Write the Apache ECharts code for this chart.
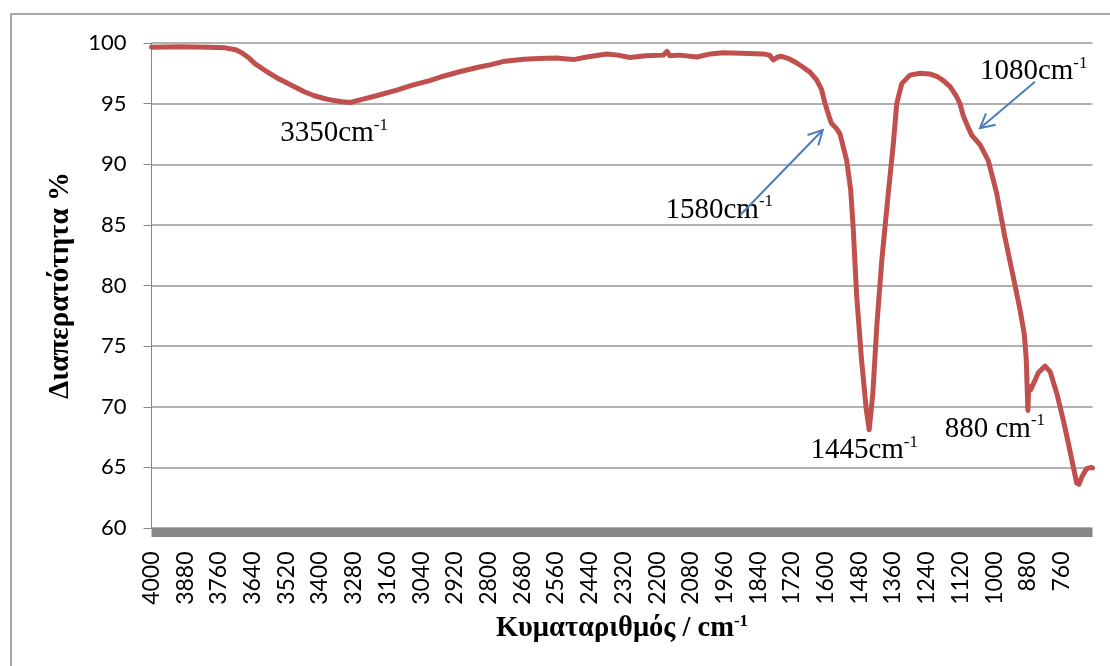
<!DOCTYPE html>
<html>
<head>
<meta charset="utf-8">
<script src="https://cdn.jsdelivr.net/npm/echarts@6/dist/echarts.min.js"></script>
<style>
  html, body { margin: 0; padding: 0; background: #fff; }
  #chart { width: 1110px; height: 666px; }
</style>
</head>
<body>
<div id="chart"></div>
<script>
// FTIR spectrum: wavenumber (cm-1) against transmittance (%)
const wavenumber = [
  4000, 3900, 3800, 3738, 3700, 3679, 3655, 3632, 3590, 3549,
  3500, 3454, 3420, 3382, 3350, 3320, 3293, 3250, 3193, 3130,
  3074, 3010, 2955, 2900, 2837, 2795, 2742, 2676, 2620, 2557,
  2530, 2498, 2450, 2380, 2340, 2297, 2240, 2178, 2165, 2155,
  2120, 2059, 2010, 1964, 1900, 1822, 1800, 1786, 1770, 1757,
  1730, 1703, 1680, 1656, 1632, 1615, 1602, 1590, 1580, 1560,
  1549, 1525, 1511, 1502, 1490, 1472, 1455, 1445, 1432, 1418,
  1400, 1377, 1359, 1347, 1329, 1300, 1264, 1230, 1200, 1181,
  1157, 1133, 1122, 1110, 1092, 1080, 1050, 1021, 991, 962,
  932, 908, 893, 886, 880, 877, 870, 866, 843, 819,
  801, 777, 754, 736, 718, 706, 698, 688, 671, 655, 650
];
const transmittance = [
  99.65, 99.70, 99.65, 99.60, 99.45, 99.20, 98.80, 98.30, 97.65, 97.07,
  96.50, 95.96, 95.65, 95.40, 95.25, 95.15, 95.09, 95.35, 95.69, 96.10,
  96.50, 96.90, 97.30, 97.65, 98.00, 98.20, 98.50, 98.66, 98.72, 98.76,
  98.70, 98.63, 98.85, 99.10, 99.00, 98.80, 98.95, 99.00, 99.30, 98.95,
  99.00, 98.85, 99.10, 99.20, 99.15, 99.10, 99.00, 98.60, 98.85, 98.90,
  98.70, 98.35, 98.00, 97.60, 96.95, 96.20, 95.00, 94.10, 93.40, 92.90,
  92.50, 90.30, 87.90, 84.80, 79.30, 73.80, 69.70, 68.10, 71.10, 76.60,
  82.10, 87.60, 91.70, 95.00, 96.65, 97.35, 97.50, 97.45, 97.20, 96.90,
  96.40, 95.55, 95.00, 94.00, 93.00, 92.40, 91.60, 90.30, 87.60, 84.00,
  80.70, 78.00, 76.00, 74.00, 69.70, 71.70, 71.40, 71.60, 72.80, 73.35,
  72.90, 71.10, 68.90, 67.00, 65.00, 63.70, 63.60, 64.20, 64.90, 65.00, 64.95
];

// x-axis tick labels (cm-1)
const xTickLabels = [
  4000, 3880, 3760, 3640, 3520, 3400, 3280, 3160, 3040, 2920,
  2800, 2680, 2560, 2440, 2320, 2200, 2080, 1960, 1840, 1720,
  1600, 1480, 1360, 1240, 1120, 1000, 880, 760
];

// annotated bands
const bandWavenumbers = [3350, 1580, 1445, 1080, 880];
const bandTexts = ['3350cm', '1580cm', '1445cm', '1080cm', '880 cm'];

const serif = "'Liberation Serif', 'Times New Roman', serif";
const sans = "Lato, 'Liberation Sans', sans-serif";

const chart = echarts.init(document.getElementById('chart'), null, { renderer: 'canvas' });
const points = wavenumber.map((w, i) => [w, transmittance[i]]);

chart.setOption({
  backgroundColor: '#ffffff',
  animation: false,
  grid: { left: 151.5, right: 17.5, top: 43, bottom: 138 },
  xAxis: {
    type: 'value',
    inverse: true,
    min: 650,
    max: 4000,
    offset: 4.5,
    axisLine: { show: true, onZero: false, lineStyle: { color: '#878787', width: 9, cap: 'butt' } },
    axisTick: { show: false },
    splitLine: { show: false },
    axisLabel: {
      customValues: xTickLabels,
      formatter: v => String(v),
      rotate: 90,
      margin: 19,
      fontFamily: sans,
      fontSize: 23,
      color: '#000'
    },
    name: '{t|Κυματαριθμός / cm}{s|-1}',
    nameLocation: 'middle',
    nameGap: 79,
    nameTextStyle: {
      rich: {
        t: { fontFamily: serif, fontWeight: 'bold', fontSize: 28.5, color: '#000', lineHeight: 32 },
        s: { fontFamily: serif, fontWeight: 'bold', fontSize: 17, color: '#000', lineHeight: 18, verticalAlign: 'top' }
      }
    }
  },
  yAxis: {
    type: 'value',
    min: 60,
    max: 100,
    interval: 5,
    axisLine: { show: true, lineStyle: { color: '#878787', width: 1 } },
    axisTick: { show: true, length: 8, lineStyle: { color: '#878787', width: 1 } },
    splitLine: { show: true, lineStyle: { color: '#979797', width: 1.5 } },
    axisLabel: { fontFamily: sans, fontSize: 22, color: '#000', margin: 25 },
    name: 'Διαπερατότητα %',
    nameLocation: 'middle',
    nameGap: 76,
    nameTextStyle: { fontFamily: serif, fontWeight: 'bold', fontSize: 29, color: '#000' }
  },
  series: [{
    type: 'line',
    data: points,
    symbol: 'none',
    showSymbol: false,
    smooth: false,
    lineStyle: { color: '#C0504D', width: 5, cap: 'round', join: 'round' },
    itemStyle: { color: '#C0504D' },
    z: 3
  }]
});

// annotations: band labels and arrows, anchored to points on the spectrum
const tOf = w => transmittance[wavenumber.indexOf(w)];
const toPx = (w, t) => chart.convertToPixel({ gridIndex: 0 }, [w, t]);

const labelOffsets = {
  3350: [0, 33],
  1580: [-112, 87],
  1445: [-5, 21],
  1080: [62, -63.5],
  880: [-33, 19]
};
const arrows = {
  1580: { tip: [-8.5, 7], tail: [-91, 92] },
  1080: { tip: [8.3, -7], tail: [63.3, -53.5] }
};

const graphics = [{
  type: 'rect',
  shape: { x: 11, y: 14, width: 1120, height: 680 },
  style: { fill: 'none', stroke: '#8a8a8a', lineWidth: 1.5 },
  silent: true
}];

bandWavenumbers.forEach((w, i) => {
  const [ax, ay] = toPx(w, tOf(w));
  const off = labelOffsets[w];
  graphics.push({
    type: 'text',
    x: ax + off[0],
    y: ay + off[1],
    z: 10,
    style: {
      text: '{m|' + bandTexts[i] + '}{s|-1}',
      align: 'center',
      verticalAlign: 'middle',
      rich: {
        m: { fontFamily: serif, fontSize: 29, fill: '#000', lineHeight: 34 },
        s: { fontFamily: serif, fontSize: 17, fill: '#000', lineHeight: 18, verticalAlign: 'top' }
      }
    }
  });
  const a = arrows[w];
  if (a) {
    const tip = [ax + a.tip[0], ay + a.tip[1]];
    const tail = [ax + a.tail[0], ay + a.tail[1]];
    const dx = tail[0] - tip[0], dy = tail[1] - tip[1];
    const len = Math.hypot(dx, dy);
    const ux = dx / len, uy = dy / len;
    const L = 16, th = 28 * Math.PI / 180;
    const rot = s => [
      tip[0] + L * (ux * Math.cos(s * th) - uy * Math.sin(s * th)),
      tip[1] + L * (ux * Math.sin(s * th) + uy * Math.cos(s * th))
    ];
    graphics.push({
      type: 'line', z: 11,
      shape: { x1: tail[0], y1: tail[1], x2: tip[0], y2: tip[1] },
      style: { stroke: '#4A7EBB', lineWidth: 2 }
    });
    graphics.push({
      type: 'polyline', z: 11,
      shape: { points: [rot(1), tip, rot(-1)] },
      style: { stroke: '#4A7EBB', lineWidth: 2, fill: 'none' }
    });
  }
});

chart.setOption({ graphic: graphics });
</script>
</body>
</html>
